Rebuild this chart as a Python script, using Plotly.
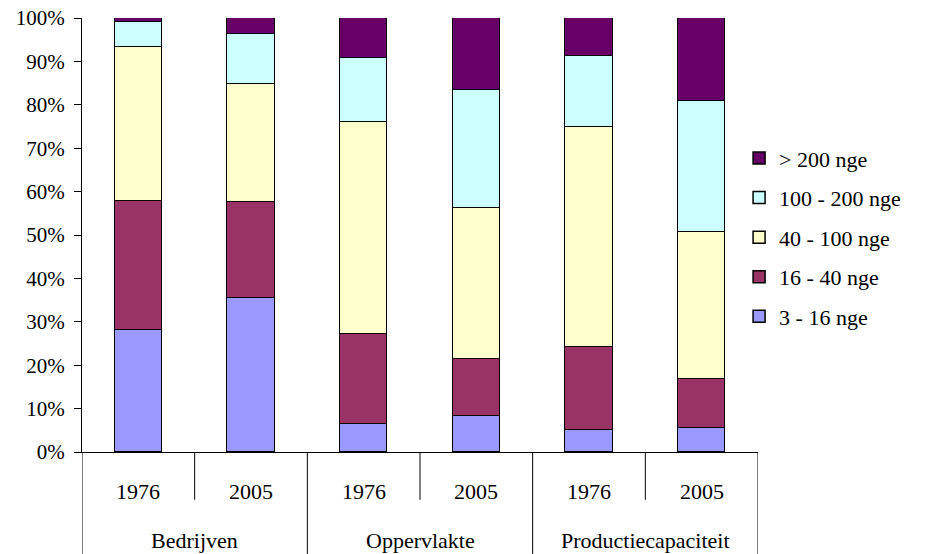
import plotly.graph_objects as go

groups = ["Bedrijven", "Oppervlakte", "Productiecapaciteit"]
years = ["1976", "2005"]
series_names = ["3 - 16 nge", "16 - 40 nge", "40 - 100 nge", "100 - 200 nge", "> 200 nge"]
colors = ["#9999FF", "#993366", "#FFFFCC", "#CCFFFF", "#660066"]

s_3_16 = [28.1, 35.4, 6.4, 8.2, 5.1, 5.6]
s_16_40 = [29.7, 22.1, 20.9, 13.3, 19.1, 11.3]
s_40_100 = [35.5, 27.2, 48.7, 34.7, 50.7, 33.7]
s_100_200 = [5.7, 11.7, 14.7, 27.2, 16.3, 30.3]
s_200 = [1.0, 3.6, 9.3, 16.6, 8.8, 19.1]
series = [s_3_16, s_16_40, s_40_100, s_100_200, s_200]

n = len(groups) * len(years)
xs = list(range(n))
totals = [sum(s[i] for s in series) for i in range(n)]

FONT = "Liberation Serif"
LBL = 22

fig = go.Figure()
for k, (name, vals, col) in enumerate(zip(series_names, series, colors)):
    fig.add_trace(go.Bar(
        x=xs, y=[v / t for v, t in zip(vals, totals)], name=name,
        marker=dict(color=col, line=dict(color="black", width=1.5)),
        width=0.42, legendgroup=name, legendrank=len(series_names) - k,
    ))

annotations = []
shapes = []
for gi, g in enumerate(groups):
    for yi, yr in enumerate(years):
        idx = gi * len(years) + yi
        annotations.append(dict(x=idx, y=-0.09, xref="x", yref="paper", text=yr,
                                showarrow=False, font=dict(family=FONT, size=LBL, color="black"),
                                xanchor="center", yanchor="middle"))
    center = gi * len(years) + (len(years) - 1) / 2
    annotations.append(dict(x=center, y=-0.203, xref="x", yref="paper", text=g,
                            showarrow=False, font=dict(family=FONT, size=LBL, color="black"),
                            xanchor="center", yanchor="middle"))
    shapes.append(dict(type="line", xref="x", yref="paper", x0=gi * 2 + 0.5, x1=gi * 2 + 0.5,
                       y0=0, y1=-0.11, line=dict(color="black", width=1)))
for gi in range(len(groups) + 1):
    xb = gi * 2 - 0.5
    shapes.append(dict(type="line", xref="x", yref="paper", x0=xb, x1=xb,
                       y0=0, y1=-0.235, line=dict(color="black", width=1)))

fig.update_layout(
    barmode="stack",
    width=939, height=554,
    margin=dict(l=82, r=181, t=18, b=102, autoexpand=False),
    paper_bgcolor="white", plot_bgcolor="white",
    font=dict(family=FONT, size=LBL, color="black"),
    showlegend=True,
    legend=dict(x=0.972, xanchor="left", y=0.495, yanchor="middle",
                traceorder="grouped", tracegroupgap=8,
                font=dict(family=FONT, size=LBL, color="black"),
                bgcolor="rgba(0,0,0,0)", itemwidth=30),
    xaxis=dict(range=[-0.5, n - 0.5], showticklabels=False, showgrid=False, automargin=False,
               zeroline=False, showline=True, linecolor="black", linewidth=1, ticks=""),
    yaxis=dict(range=[0, 1], tickformat=".0%", dtick=0.1, tick0=0, showgrid=False, automargin=False,
               zeroline=False, showline=True, linecolor="black", linewidth=1,
               ticks="outside", ticklen=7, tickcolor="black", ticklabelstandoff=5,
               tickfont=dict(family=FONT, size=21, color="black")),
    annotations=annotations,
    shapes=shapes,
    bargap=0,
)

fig.write_html("out.html")
